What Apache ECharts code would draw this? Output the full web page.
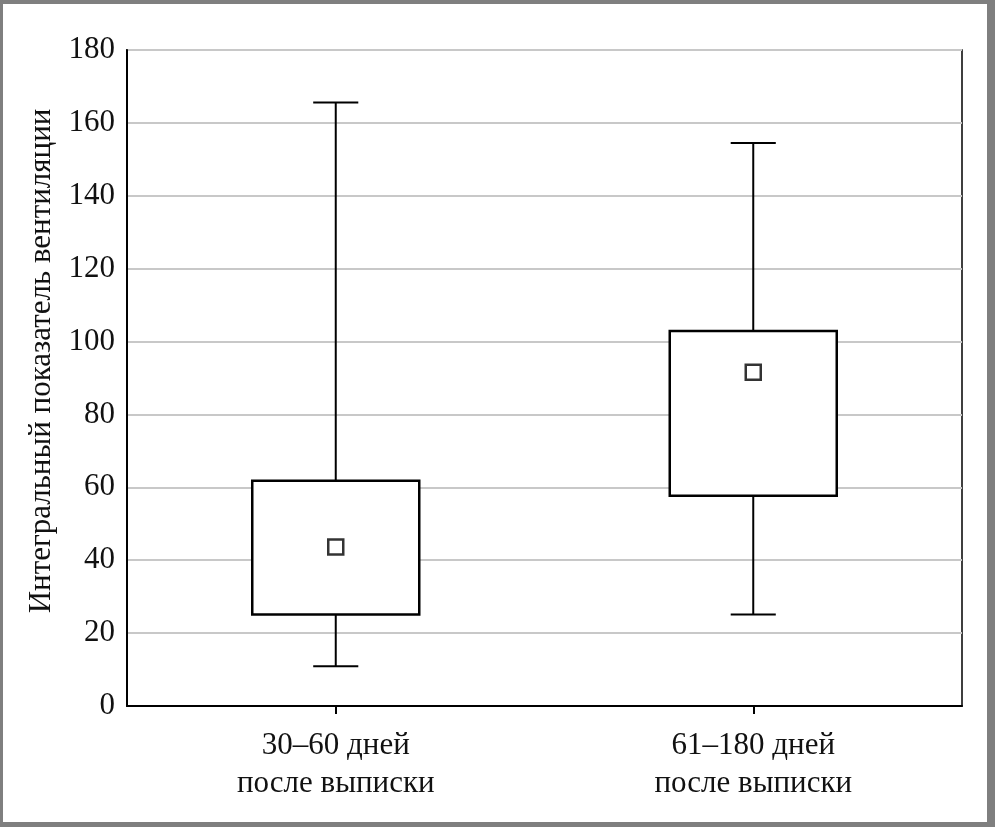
<!DOCTYPE html>
<html>
<head>
<meta charset="utf-8">
<script src="https://cdn.jsdelivr.net/npm/echarts@6/dist/echarts.min.js"></script>
<style>
html,body{margin:0;padding:0;background:#fff;}
#wrap{position:relative;width:995px;height:827px;}
#chart{position:absolute;left:0;top:0;width:995px;height:827px;}
#frame{position:absolute;left:0;top:0;width:995px;height:827px;box-sizing:border-box;
border-left:3px solid #7f7f7f;border-top:4px solid #7f7f7f;border-right:8px solid #7f7f7f;border-bottom:5px solid #7f7f7f;pointer-events:none;}
</style>
</head>
<body>
<div id="wrap"><div id="chart"></div><div id="frame"></div></div>
<script>
const categories = ['30–60 дней\nпосле выписки', '61–180 дней\nпосле выписки'];
const whiskerMin = [10.9, 25.1];
const q1 = [25.1, 57.7];
const q3 = [61.8, 102.9];
const whiskerMax = [165.6, 154.5];
const means = [43.6, 91.6];
const yTicks = [0, 20, 40, 60, 80, 100, 120, 140, 160, 180];
const yTitle = 'Интегральный показатель вентиляции';

const boxData = categories.map((c, i) => [i, whiskerMin[i], q1[i], q3[i], whiskerMax[i]]);
const meanData = categories.map((c, i) => [i, means[i]]);

const chart = echarts.init(document.getElementById('chart'));
const font = 'Liberation Serif';

chart.setOption({
  backgroundColor: '#fff',
  animation: false,
  grid: {left: 127, top: 50, right: 33, bottom: 121, show: true, borderColor: '#000', borderWidth: 1.5, backgroundColor: 'transparent'},
  xAxis: {
    type: 'category',
    data: categories,
    axisLine: {lineStyle: {color: '#000', width: 2}},
    axisTick: {show: true, alignWithLabel: true, length: 8, lineStyle: {color: '#000', width: 2}},
    axisLabel: {color: '#111', fontFamily: font, fontSize: 31, lineHeight: 38, margin: 21},
    splitLine: {show: false}
  },
  yAxis: {
    type: 'value',
    min: yTicks[0],
    max: yTicks[yTicks.length - 1],
    interval: yTicks[1] - yTicks[0],
    name: yTitle,
    nameLocation: 'middle',
    nameRotate: 90,
    nameGap: 62,
    nameTextStyle: {color: '#111', fontFamily: font, fontSize: 31, padding: [0, 0, 0, 34]},
    axisLine: {show: true, lineStyle: {color: '#000', width: 2}},
    axisTick: {show: false},
    axisLabel: {color: '#111', fontFamily: font, fontSize: 31, margin: 12},
    splitLine: {show: true, lineStyle: {color: '#c8c8c8', width: 2}}
  },
  series: [
    {
      type: 'custom',
      data: boxData,
      encode: {x: 0, y: [1, 2, 3, 4]},
      renderItem: function (params, api) {
        const xi = api.value(0);
        const band = api.size([1, 0])[0];
        const halfBox = band * 0.2;
        const halfCap = band * 0.054;
        const pMin = api.coord([xi, api.value(1)]);
        const pQ1 = api.coord([xi, api.value(2)]);
        const pQ3 = api.coord([xi, api.value(3)]);
        const pMax = api.coord([xi, api.value(4)]);
        const x = pMin[0];
        const ls = {stroke: '#000', lineWidth: 2, fill: null};
        return {
          type: 'group',
          children: [
            {type: 'line', shape: {x1: x, y1: pMax[1], x2: x, y2: pQ3[1]}, style: ls},
            {type: 'line', shape: {x1: x, y1: pQ1[1], x2: x, y2: pMin[1]}, style: ls},
            {type: 'line', shape: {x1: x - halfCap, y1: pMax[1], x2: x + halfCap, y2: pMax[1]}, style: ls},
            {type: 'line', shape: {x1: x - halfCap, y1: pMin[1], x2: x + halfCap, y2: pMin[1]}, style: ls},
            {type: 'rect', shape: {x: x - halfBox, y: pQ3[1], width: halfBox * 2, height: pQ1[1] - pQ3[1]},
             style: {stroke: '#000', lineWidth: 2.5, fill: '#fff'}}
          ]
        };
      },
      z: 3
    },
    {
      type: 'scatter',
      data: meanData,
      symbol: 'rect',
      symbolSize: 15,
      itemStyle: {color: '#fff', borderColor: '#000', borderWidth: 2.5},
      z: 4
    }
  ]
});
</script>
</body>
</html>
